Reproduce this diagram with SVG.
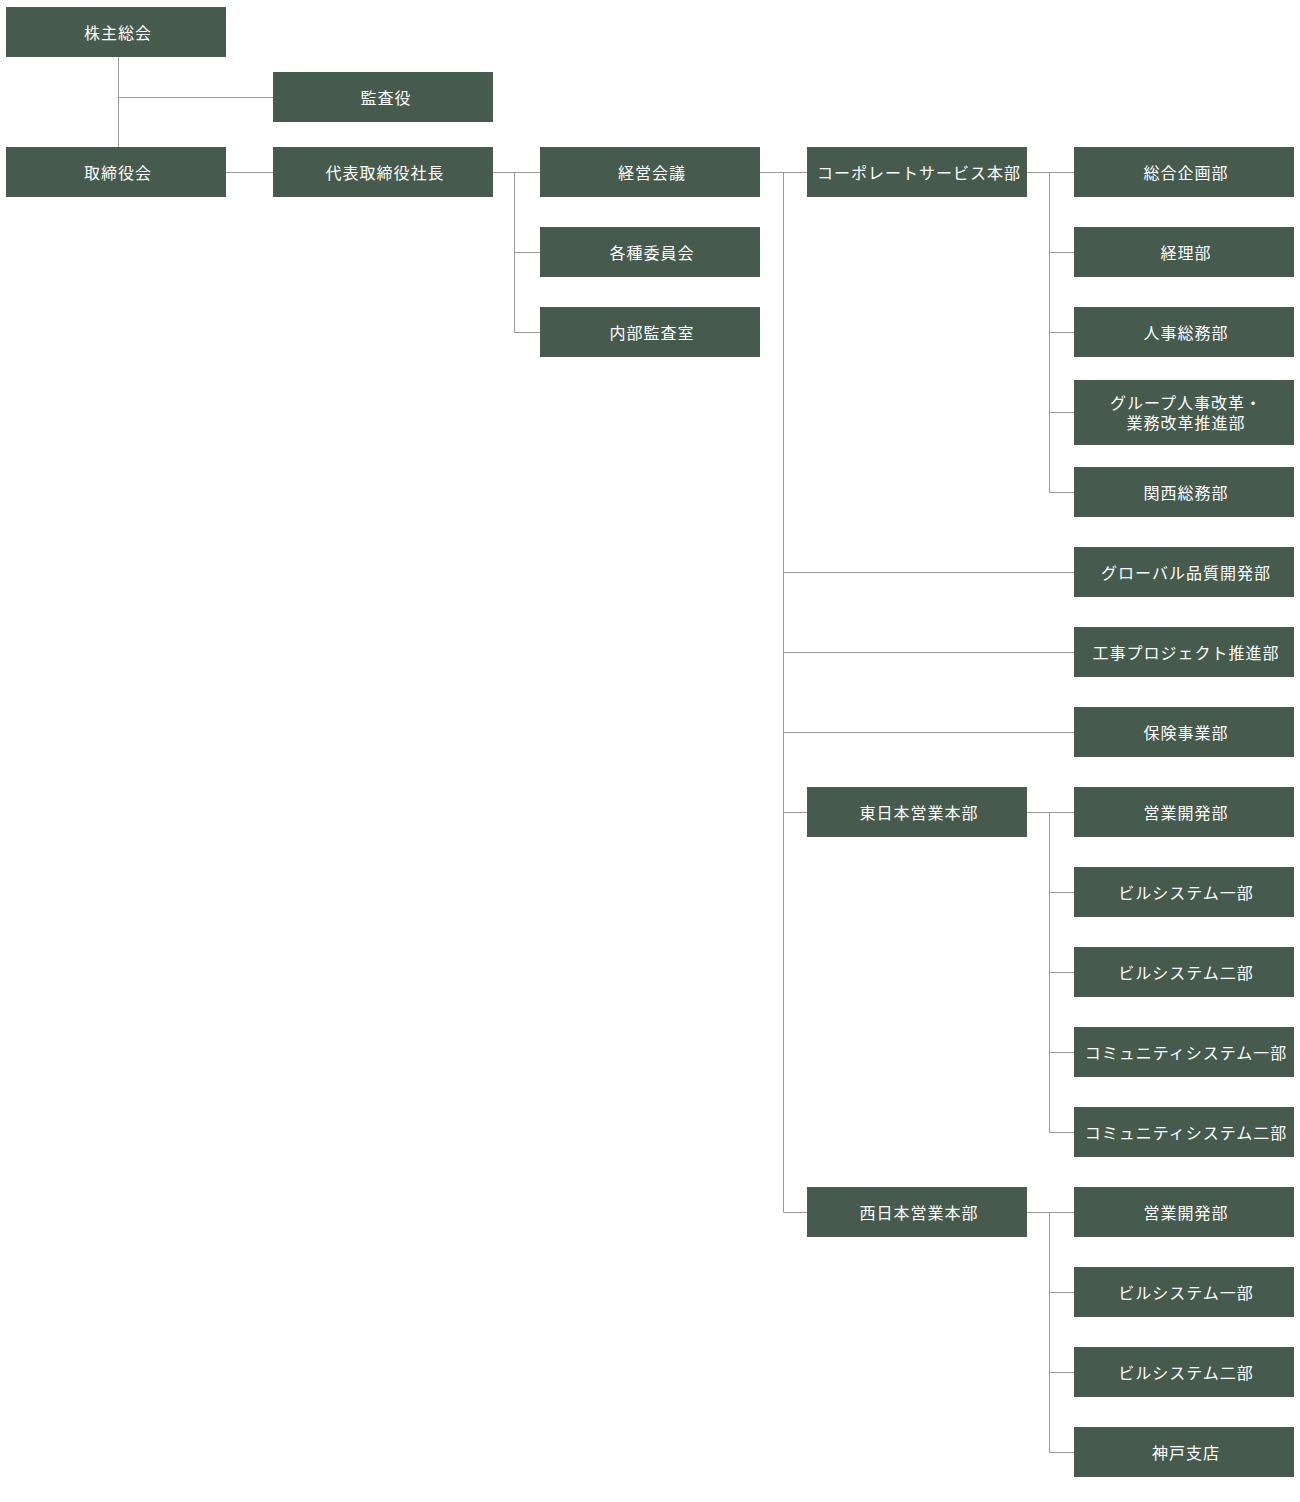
<svg xmlns="http://www.w3.org/2000/svg" width="1300" height="1502" viewBox="0 0 1300 1502">
<style>
.n rect{fill:#465a4e}
.n text{fill:#fff;font-family:"Noto Sans CJK JP","Noto Sans CJK SC",sans-serif;font-size:16px;font-weight:400;letter-spacing:1px;text-anchor:middle;dominant-baseline:central}
.c path{fill:none;stroke:#9a9a9a;stroke-width:1}
</style>
<rect width="1300" height="1502" fill="#fff"/>
<g class="c">
<path d="M118.5 57V147M118.5 97.5H273"/>
<path d="M226 172.5H273"/>
<path d="M493 172.5H540M514.5 172V332.5H540M514.5 252.5H540"/>
<path d="M760 172.5H807M783.5 172V1212.5H807M783.5 812.5H807M783.5 572.5H1074M783.5 652.5H1074M783.5 732.5H1074"/>
<path d="M1027 172.5H1074M1049.5 172V492.5H1074M1049.5 252.5H1074M1049.5 332.5H1074M1049.5 412.5H1074"/>
<path d="M1027 812.5H1074M1049.5 812V1132.5H1074M1049.5 892.5H1074M1049.5 972.5H1074M1049.5 1052.5H1074"/>
<path d="M1027 1212.5H1074M1049.5 1212V1452.5H1074M1049.5 1292.5H1074M1049.5 1372.5H1074"/>
</g>
<g id="kabunushi" class="n"><rect x="6" y="7" width="220" height="50"/><text x="118" y="32">株主総会</text></g>
<g id="kansayaku" class="n"><rect x="273" y="72" width="220" height="50"/><text x="386" y="97">監査役</text></g>
<g id="torishimariyakukai" class="n"><rect x="6" y="147" width="220" height="50"/><text x="118" y="172">取締役会</text></g>
<g id="shacho" class="n"><rect x="273" y="147" width="220" height="50"/><text x="385" y="172">代表取締役社長</text></g>
<g id="keiei" class="n"><rect x="540" y="147" width="220" height="50"/><text x="652" y="172">経営会議</text></g>
<g id="iinkai" class="n"><rect x="540" y="227" width="220" height="50"/><text x="652" y="252">各種委員会</text></g>
<g id="naibu" class="n"><rect x="540" y="307" width="220" height="50"/><text x="652" y="332">内部監査室</text></g>
<g id="corporate" class="n"><rect x="807" y="147" width="220" height="50"/><text x="919" y="172">コーポレートサービス本部</text></g>
<g id="sogokikaku" class="n"><rect x="1074" y="147" width="220" height="50"/><text x="1186" y="172">総合企画部</text></g>
<g id="keiri" class="n"><rect x="1074" y="227" width="220" height="50"/><text x="1186" y="252">経理部</text></g>
<g id="jinji" class="n"><rect x="1074" y="307" width="220" height="50"/><text x="1186" y="332">人事総務部</text></g>
<g id="group" class="n"><rect x="1074" y="380" width="220" height="65"/><text x="1186" y="402">グループ人事改革・</text><text x="1186" y="422">業務改革推進部</text></g>
<g id="kansai" class="n"><rect x="1074" y="467" width="220" height="50"/><text x="1186" y="492">関西総務部</text></g>
<g id="global" class="n"><rect x="1074" y="547" width="220" height="50"/><text x="1186" y="572">グローバル品質開発部</text></g>
<g id="koji" class="n"><rect x="1074" y="627" width="220" height="50"/><text x="1186" y="652">工事プロジェクト推進部</text></g>
<g id="hoken" class="n"><rect x="1074" y="707" width="220" height="50"/><text x="1186" y="732">保険事業部</text></g>
<g id="higashi" class="n"><rect x="807" y="787" width="220" height="50"/><text x="919" y="812">東日本営業本部</text></g>
<g id="e-eigyo" class="n"><rect x="1074" y="787" width="220" height="50"/><text x="1186" y="812">営業開発部</text></g>
<g id="e-bill1" class="n"><rect x="1074" y="867" width="220" height="50"/><text x="1186" y="892">ビルシステム一部</text></g>
<g id="e-bill2" class="n"><rect x="1074" y="947" width="220" height="50"/><text x="1186" y="972">ビルシステム二部</text></g>
<g id="e-comm1" class="n"><rect x="1074" y="1027" width="220" height="50"/><text x="1186" y="1052">コミュニティシステム一部</text></g>
<g id="e-comm2" class="n"><rect x="1074" y="1107" width="220" height="50"/><text x="1186" y="1132">コミュニティシステム二部</text></g>
<g id="nishi" class="n"><rect x="807" y="1187" width="220" height="50"/><text x="919" y="1212">西日本営業本部</text></g>
<g id="w-eigyo" class="n"><rect x="1074" y="1187" width="220" height="50"/><text x="1186" y="1212">営業開発部</text></g>
<g id="w-bill1" class="n"><rect x="1074" y="1267" width="220" height="50"/><text x="1186" y="1292">ビルシステム一部</text></g>
<g id="w-bill2" class="n"><rect x="1074" y="1347" width="220" height="50"/><text x="1186" y="1372">ビルシステム二部</text></g>
<g id="kobe" class="n"><rect x="1074" y="1427" width="220" height="50"/><text x="1186" y="1452">神戸支店</text></g>
</svg>
